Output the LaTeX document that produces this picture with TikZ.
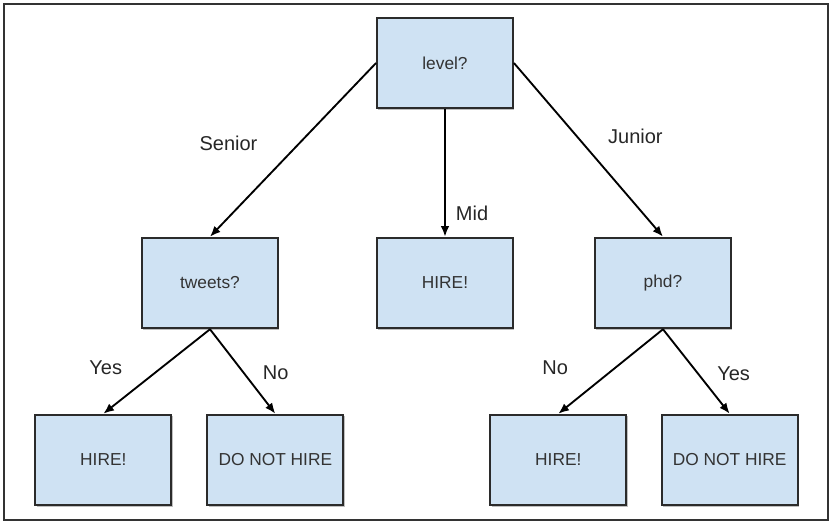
\documentclass[tikz,border=0pt]{standalone}
\usepackage{fontspec}
\setmainfont{Liberation Sans}
\usetikzlibrary{positioning, arrows.meta, shadows}

\definecolor{boxblue}{HTML}{CFE2F3}
\definecolor{boxline}{HTML}{2B2B2B}

\tikzset{
  decision/.style={draw=boxline, line width=1.4pt, fill=boxblue, minimum width=102pt, minimum height=68pt,
    font=\fontsize{13}{15}\selectfont, text=black!80,
    drop shadow={shadow xshift=1pt, shadow yshift=-1pt, opacity=0.5}},
  answer/.style={font=\fontsize{15}{18}\selectfont, inner sep=0pt, text=black!85}
}

\begin{document}
\begin{tikzpicture}[x=0.75pt, y=0.75pt, on grid, >={Latex[length=8pt, width=6.5pt]}]
    \useasboundingbox (0,0) rectangle (833,-524);
    \draw[black!80, line width=0.8pt] (4,-4) rectangle (828,-520);

    \node[decision]  (level)    at (445,-63)                                  {level?};
    \node[decision]  (mid)      [below=165pt of level]                        {HIRE!};
    \node[decision]  (tweets)   [below left=165pt and 176.25pt of level]      {tweets?};
    \node[decision]  (phd)      [below right=165pt and 163.5pt of level]      {phd?};
    \node[decision]  (hireA)    [below left=132.75pt and 80pt of tweets]      {HIRE!};
    \node[decision]  (nohireA)  [below right=132.75pt and 49pt of tweets]     {DO NOT HIRE};
    \node[decision]  (hireB)    [below left=132.75pt and 78.5pt of phd]       {HIRE!};
    \node[decision]  (nohireB)  [below right=132.75pt and 50pt of phd]        {DO NOT HIRE};

    \path[->, line width=1.4pt]
    (level.west)   edge node[answer, pos=0.46, left=31pt]    {Senior} (tweets.north)
    (level)        edge node[answer, pos=0.82, right=7.5pt]  {Mid}    (mid)
    (level.east)   edge node[answer, pos=0.42, right=23pt]   {Junior} (phd.north)
    (tweets.south) edge node[answer, pos=0.46, left=28.5pt]  {Yes}    (hireA.north)
    (tweets.south) edge node[answer, pos=0.52, right=13.5pt] {No}     (nohireA.north)
    (phd.south)    edge node[answer, pos=0.46, left=34.5pt]  {No}     (hireB.north)
    (phd.south)    edge node[answer, pos=0.53, right=13.5pt] {Yes}    (nohireB.north)
    ;
\end{tikzpicture}
\end{document}
